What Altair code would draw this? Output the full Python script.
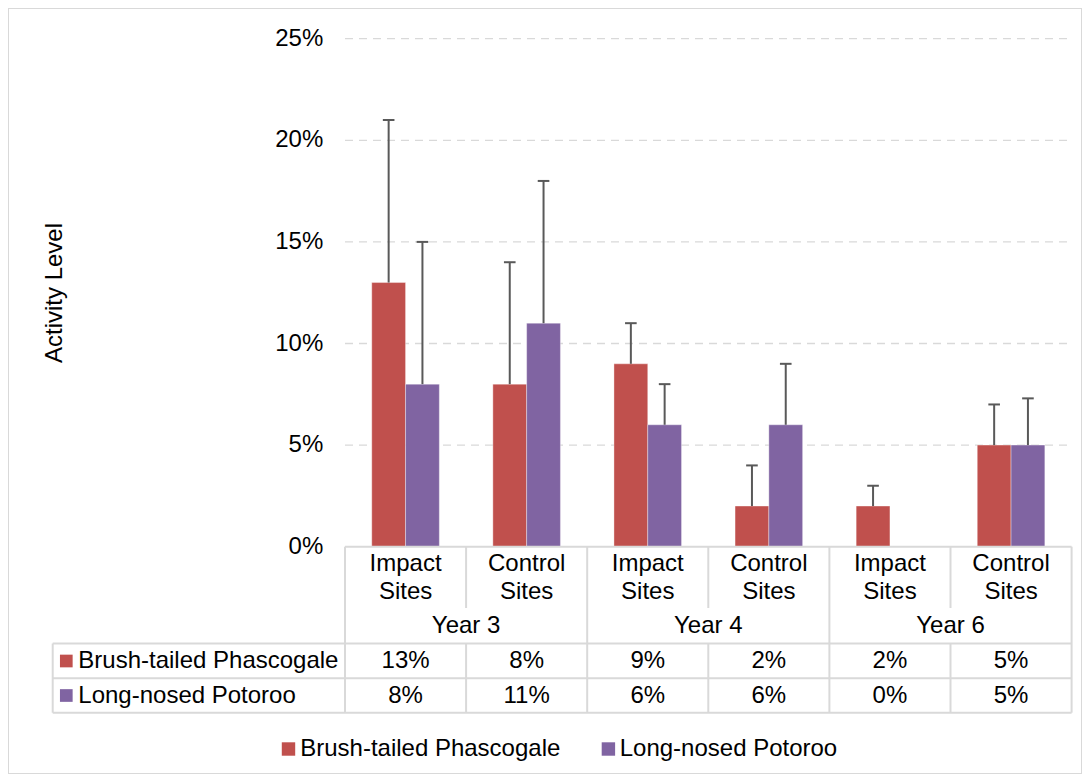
import altair as alt
import pandas as pd

# ---------------- data ----------------
sites = ["Impact Sites", "Control Sites", "Impact Sites", "Control Sites", "Impact Sites", "Control Sites"]
years = ["Year 3", "Year 4", "Year 6"]
series = ["Brush-tailed Phascogale", "Long-nosed Potoroo"]
colors = ["#C0504D", "#8064A2"]
phascogale = [0.13, 0.08, 0.09, 0.02, 0.02, 0.05]
potoroo = [0.08, 0.11, 0.06, 0.06, 0.00, 0.05]
phascogale_err_top = [0.21, 0.14, 0.11, 0.04, 0.03, 0.07]
potoroo_err_top = [0.15, 0.18, 0.08, 0.09, None, 0.073]
y_ticks = [0.0, 0.05, 0.10, 0.15, 0.20, 0.25]
y_tick_labels = ["0%", "5%", "10%", "15%", "20%", "25%"]
y_title = "Activity Level"

# ---------------- layout (scale units) ----------------
W, H = 1074, 766
X_DOMAIN = [-2.7828, 6.0859]
Y_DOMAIN = [-0.11186, 0.26511]
BAR_W = 0.279
CAP = 0.048
FONT = "Liberation Sans"
FS = 24
LINE = "#D9D9D9"
TXT = "#000000"

TICK_LABEL_X = -0.1792
SITE_Y = -0.00851
YEAR_Y = -0.03903
ROW_Y = [-0.05625, -0.07323]
SITE_BOTTOM = -0.03017
YEAR_BOTTOM = -0.04764
ROW1_BOTTOM = -0.06476
ROW2_BOTTOM = -0.08169
TABLE_LEFT = -2.4137
KEY_X = -2.3014
KEY_LABEL_X = -2.2023
LEG_Y = -0.09956
LEG_KEY_X = [-0.4666, 2.1751]
LEG_TEXT_X = [-0.370, 2.2684]
TITLE_X, TITLE_Y = -2.3947, 0.12485

x_sc = alt.Scale(domain=X_DOMAIN, nice=False, zero=False)
y_sc = alt.Scale(domain=Y_DOMAIN, nice=False, zero=False)
c_sc = alt.Scale(domain=series, range=colors)


def X(f):
    return alt.X(f, type="quantitative", scale=x_sc, axis=None)


def Y(f):
    return alt.Y(f, type="quantitative", scale=y_sc, axis=None)


# ---------------- tables ----------------
bar_rows = []
for i in range(6):
    for k, (vals, tops) in enumerate([(phascogale, phascogale_err_top), (potoroo, potoroo_err_top)]):
        x0 = i + 0.5 - BAR_W if k == 0 else i + 0.5
        bar_rows.append(dict(series=series[k], x=x0, x2=x0 + BAR_W, c=x0 + BAR_W / 2,
                             cl=x0 + BAR_W / 2 - CAP, cr=x0 + BAR_W / 2 + CAP,
                             v=vals[i], top=tops[i], zero=0.0))
bars_df = pd.DataFrame(bar_rows)
err_df = bars_df.dropna(subset=["top"])

grid_df = pd.DataFrame({"y": y_ticks[1:], "x": 0.0, "x2": 6.0})
ticks_df = pd.DataFrame({"y": y_ticks, "label": y_tick_labels, "x": TICK_LABEL_X})

segs = [(0, 6, 0, 0)]
for yy in [YEAR_BOTTOM, ROW1_BOTTOM, ROW2_BOTTOM]:
    segs.append((TABLE_LEFT, 6, yy, yy))
segs.append((TABLE_LEFT, TABLE_LEFT, YEAR_BOTTOM, ROW2_BOTTOM))
for xx in [0, 2, 4, 6]:
    segs.append((xx, xx, 0, ROW2_BOTTOM))
for xx in [1, 3, 5]:
    segs.append((xx, xx, 0, SITE_BOTTOM))
    segs.append((xx, xx, YEAR_BOTTOM, ROW2_BOTTOM))
lines_df = pd.DataFrame(segs, columns=["x", "x2", "y", "y2"])

site_df = pd.DataFrame({"x": [i + 0.5 for i in range(6)], "y": SITE_Y, "label": sites})
year_df = pd.DataFrame({"x": [1.0, 3.0, 5.0], "y": YEAR_Y, "label": years})
val_rows = []
for k, vals in enumerate([phascogale, potoroo]):
    for i, v in enumerate(vals):
        val_rows.append(dict(x=i + 0.5, y=ROW_Y[k], label=f"{round(v * 100)}%"))
vals_df = pd.DataFrame(val_rows)
rowkey_df = pd.DataFrame({"series": series, "x": KEY_X, "xt": KEY_LABEL_X, "y": ROW_Y})
legend_df = pd.DataFrame({"series": series, "x": LEG_KEY_X, "xt": LEG_TEXT_X, "y": LEG_Y})
title_df = pd.DataFrame({"x": [TITLE_X], "y": [TITLE_Y], "label": [y_title]})

# ---------------- layers ----------------
grid = alt.Chart(grid_df).mark_rule(color=LINE, strokeWidth=1.3, strokeDash=[8, 6]).encode(
    x=X("x"), x2="x2", y=Y("y"))

bars = alt.Chart(bars_df).mark_bar(stroke="white", strokeWidth=0.6, strokeOpacity=0.6).encode(
    x=X("x"), x2="x2", y=Y("v"), y2="zero",
    color=alt.Color("series:N", scale=c_sc, legend=None))

err = alt.Chart(err_df).mark_rule(color="#595959", strokeWidth=2).encode(
    x=X("c"), y=Y("v"), y2="top")
caps = alt.Chart(err_df).mark_rule(color="#595959", strokeWidth=2).encode(
    x=X("cl"), x2="cr", y=Y("top"))

lines = alt.Chart(lines_df).mark_rule(color=LINE, strokeWidth=2).encode(
    x=X("x"), x2="x2", y=Y("y"), y2="y2")

text_kw = dict(font=FONT, fontSize=FS, color=TXT)

ticks = alt.Chart(ticks_df).mark_text(align="right", baseline="middle", **text_kw).encode(
    x=X("x"), y=Y("y"), text="label:N")

site_txt = alt.Chart(site_df).mark_text(align="center", baseline="middle", lineBreak=" ",
                                        lineHeight=27.7, **text_kw).encode(
    x=X("x"), y=Y("y"), text="label:N")

year_txt = alt.Chart(year_df).mark_text(align="center", baseline="middle", **text_kw).encode(
    x=X("x"), y=Y("y"), text="label:N")

val_txt = alt.Chart(vals_df).mark_text(align="center", baseline="middle", **text_kw).encode(
    x=X("x"), y=Y("y"), text="label:N")

row_keys = alt.Chart(rowkey_df).mark_square(size=161, opacity=1).encode(
    x=X("x"), y=Y("y"), color=alt.Color("series:N", scale=c_sc, legend=None))
row_lbl = alt.Chart(rowkey_df).mark_text(align="left", baseline="middle", **text_kw).encode(
    x=X("xt"), y=Y("y"), text="series:N")

leg_keys = alt.Chart(legend_df).mark_square(size=180, opacity=1).encode(
    x=X("x"), y=Y("y"), color=alt.Color("series:N", scale=c_sc, legend=None))
leg_lbl = alt.Chart(legend_df).mark_text(align="left", baseline="middle", **text_kw).encode(
    x=X("xt"), y=Y("y"), text="series:N")

title = alt.Chart(title_df).mark_text(align="center", baseline="middle", angle=270, **text_kw).encode(
    x=X("x"), y=Y("y"), text="label:N")

chart = alt.layer(
    grid, bars, err, caps, lines, ticks, site_txt, year_txt, val_txt,
    row_keys, row_lbl, leg_keys, leg_lbl, title
).properties(
    width=W, height=H, padding=0,
    autosize=alt.AutoSizeParams(type="none"),
    background="white",
).configure_view(stroke=LINE, strokeWidth=2)

chart.save("out.html", embed_options={"renderer": "svg", "actions": False})
